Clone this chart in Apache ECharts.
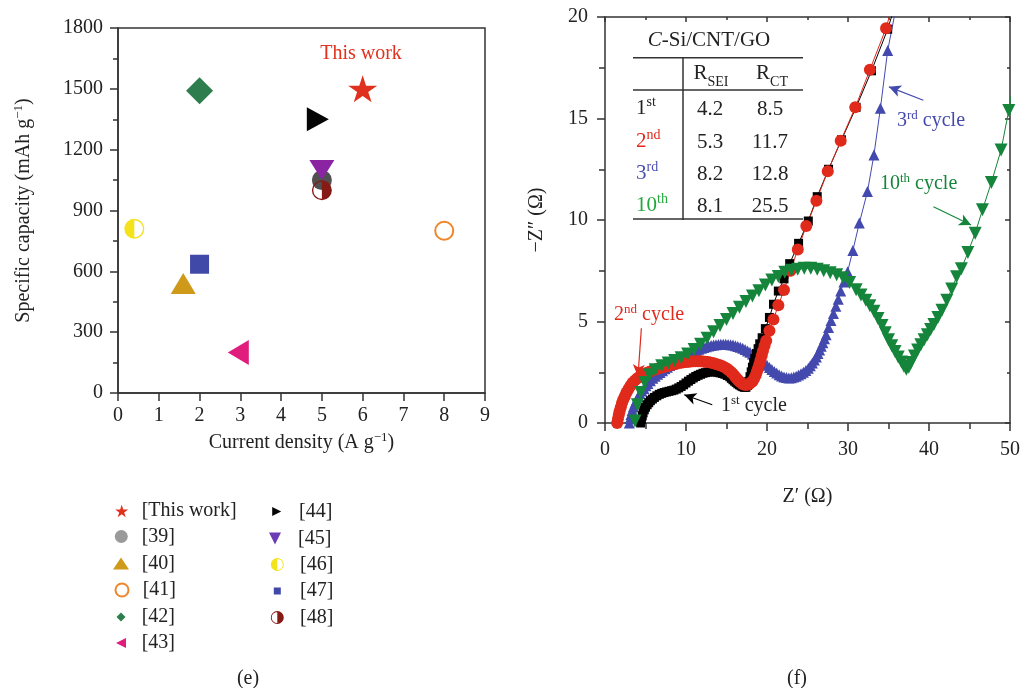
<!DOCTYPE html>
<html><head><meta charset="utf-8">
<script src="https://cdn.jsdelivr.net/npm/echarts@6/dist/echarts.min.js"></script>
<style>html,body{margin:0;padding:0;background:#fff}#c{width:1023px;height:688px}</style>
</head><body><div id="c"></div>
<script>
// ---------- DATA ----------
const refNames = ['[This work]','[39]','[40]','[41]','[42]','[43]','[44]','[45]','[46]','[47]','[48]'];
const currentDensity = [6, 5, 1.6, 8, 2, 2.95, 4.9, 5, 0.4, 2, 5];
const specificCapacity = [1500, 1050, 540, 800, 1490, 200, 1350, 1100, 810, 635, 1000];

const cycle1 = [[4.4,0.0],[4.5,0.18],[4.6,0.35],[4.7,0.5],[4.85,0.65],[5.0,0.78],[5.2,0.9],[5.4,1.0],[5.6,1.1],[5.85,1.18],[6.1,1.26],[6.4,1.34],[6.7,1.41],[7.0,1.46],[7.3,1.5],[7.6,1.53],[7.9,1.56],[8.2,1.59],[8.5,1.62],[8.8,1.67],[9.1,1.73],[9.4,1.8],[9.7,1.88],[10.0,1.97],[10.3,2.06],[10.6,2.14],[10.9,2.22],[11.2,2.29],[11.5,2.35],[11.8,2.4],[12.1,2.45],[12.4,2.48],[12.7,2.51],[13.0,2.52],[13.3,2.53],[13.6,2.52],[13.9,2.5],[14.2,2.47],[14.5,2.44],[14.8,2.4],[15.1,2.34],[15.4,2.28],[15.6,2.2],[15.8,2.13],[16.0,2.06],[16.2,2.0],[16.4,1.93],[16.6,1.88],[16.8,1.83],[17.0,1.79],[17.2,1.76],[17.4,1.76],[17.6,1.85],[17.75,2.05],[17.9,2.28],[18.05,2.52],[18.2,2.75],[18.35,2.97],[18.5,3.18],[18.7,3.42],[18.9,3.66],[19.1,3.9],[19.4,4.2],[19.8,4.65],[20.3,5.2],[20.8,5.85],[21.4,6.5],[22.1,7.1],[22.8,7.85],[23.9,8.85],[25.1,9.95],[26.2,11.15],[27.6,12.5],[29.2,13.95],[31.0,15.55],[32.9,17.35],[34.9,19.4],[35.6,20.3]];
const cycle2 = [[1.5,0.0],[1.6,0.2],[1.7,0.4],[1.8,0.58],[1.95,0.78],[2.1,0.98],[2.25,1.15],[2.45,1.32],[2.65,1.5],[2.9,1.68],[3.15,1.84],[3.4,1.98],[3.7,2.1],[4.0,2.2],[4.3,2.28],[4.6,2.35],[4.9,2.42],[5.2,2.48],[5.5,2.53],[5.8,2.58],[6.1,2.62],[6.4,2.66],[6.7,2.7],[7.0,2.73],[7.3,2.77],[7.6,2.8],[7.9,2.83],[8.2,2.86],[8.5,2.89],[8.8,2.92],[9.1,2.95],[9.4,2.97],[9.7,2.99],[10.0,3.0],[10.3,3.02],[10.6,3.03],[10.9,3.04],[11.2,3.04],[11.5,3.04],[11.8,3.04],[12.1,3.03],[12.4,3.02],[12.7,3.0],[13.0,2.98],[13.3,2.95],[13.6,2.92],[13.9,2.88],[14.2,2.84],[14.5,2.79],[14.8,2.74],[15.05,2.67],[15.3,2.6],[15.55,2.51],[15.8,2.42],[16.0,2.32],[16.2,2.22],[16.4,2.13],[16.6,2.05],[16.8,1.98],[17.0,1.92],[17.2,1.89],[17.4,1.88],[17.6,1.89],[17.8,1.92],[18.0,1.98],[18.2,2.05],[18.4,2.18],[18.6,2.35],[18.75,2.52],[18.9,2.7],[19.05,2.9],[19.2,3.1],[19.35,3.32],[19.5,3.55],[19.7,3.8],[19.9,4.05],[20.3,4.55],[20.8,5.1],[21.4,5.8],[22.1,6.55],[22.9,7.5],[23.8,8.55],[24.85,9.7],[26.1,10.95],[27.5,12.4],[29.1,13.9],[30.9,15.55],[32.7,17.4],[34.7,19.45],[35.3,20.3]];
const cycle3 = [[3.0,0.0],[3.1,0.22],[3.2,0.42],[3.35,0.62],[3.5,0.8],[3.7,0.98],[3.9,1.15],[4.1,1.3],[4.3,1.45],[4.55,1.58],[4.8,1.7],[5.05,1.83],[5.3,1.95],[5.6,2.08],[5.9,2.2],[6.2,2.3],[6.5,2.4],[6.8,2.49],[7.1,2.58],[7.4,2.67],[7.7,2.75],[8.0,2.83],[8.3,2.9],[8.6,2.98],[8.9,3.05],[9.2,3.13],[9.5,3.2],[9.8,3.27],[10.1,3.33],[10.4,3.4],[10.7,3.46],[11.0,3.52],[11.3,3.58],[11.6,3.63],[11.9,3.68],[12.2,3.72],[12.5,3.76],[12.8,3.79],[13.1,3.82],[13.4,3.84],[13.7,3.86],[14.0,3.87],[14.3,3.88],[14.6,3.88],[14.9,3.88],[15.2,3.87],[15.5,3.86],[15.8,3.84],[16.1,3.81],[16.4,3.77],[16.7,3.73],[17.0,3.68],[17.3,3.62],[17.6,3.55],[17.9,3.48],[18.2,3.4],[18.5,3.32],[18.8,3.23],[19.1,3.14],[19.4,3.04],[19.7,2.94],[20.0,2.84],[20.3,2.74],[20.6,2.64],[20.9,2.54],[21.2,2.46],[21.5,2.38],[21.8,2.32],[22.1,2.27],[22.4,2.24],[22.7,2.22],[23.0,2.23],[23.3,2.26],[23.6,2.3],[23.9,2.36],[24.2,2.42],[24.5,2.5],[24.8,2.59],[25.1,2.7],[25.35,2.82],[25.6,2.95],[25.85,3.1],[26.1,3.25],[26.3,3.42],[26.5,3.6],[26.7,3.78],[26.9,3.95],[27.1,4.15],[27.3,4.35],[27.6,4.7],[27.9,5.05],[28.2,5.4],[28.5,5.75],[28.8,6.1],[29.1,6.5],[29.5,6.95],[29.95,7.45],[30.6,8.5],[31.4,9.85],[32.4,11.4],[33.2,13.2],[34.0,15.5],[34.9,18.35],[36.0,20.6]];
const cycle10 = [[3.7,0.1],[4.0,0.9],[4.4,1.5],[4.9,2.0],[5.5,2.38],[6.2,2.62],[7.0,2.82],[7.8,2.95],[8.6,3.08],[9.4,3.22],[10.2,3.4],[11.0,3.62],[11.8,3.88],[12.6,4.18],[13.4,4.5],[14.2,4.8],[15.0,5.1],[15.8,5.4],[16.6,5.7],[17.4,5.98],[18.2,6.26],[19.0,6.52],[19.8,6.8],[20.6,7.05],[21.4,7.22],[22.2,7.42],[23.0,7.52],[23.8,7.58],[24.6,7.62],[25.4,7.62],[26.2,7.58],[27.0,7.5],[27.8,7.4],[28.6,7.3],[29.4,7.15],[30.2,6.92],[31.0,6.56],[31.6,6.3],[32.2,6.05],[32.7,5.78],[33.2,5.5],[33.7,5.15],[34.2,4.8],[34.6,4.45],[35.0,4.1],[35.4,3.8],[35.8,3.52],[36.2,3.25],[36.6,3.0],[36.9,2.8],[37.2,2.65],[37.5,2.75],[37.8,2.98],[38.2,3.3],[38.6,3.6],[39.0,3.85],[39.4,4.1],[39.8,4.35],[40.2,4.6],[40.6,4.85],[41.1,5.2],[41.6,5.55],[42.2,6.05],[42.8,6.6],[43.4,7.2],[44.0,7.6],[44.8,8.4],[45.7,9.35],[46.6,10.5],[47.7,11.85],[48.9,13.45],[49.85,15.4],[50.6,17.2]];

const tableCycles = [['1','st'],['2','nd'],['3','rd'],['10','th']];
const rSEI = ['4.2','5.3','8.2','8.1'];
const rCT = ['8.5','11.7','12.8','25.5'];

// ---------- STYLE ----------
const FONT = 'Liberation Serif';
const TXT = '#222';
const STAR = 'path://M50 0L61.23 34.55L97.55 34.55L68.17 55.9L79.39 90.45L50 69.1L20.61 90.45L31.83 55.9L2.45 34.55L38.77 34.55Z';
const TRI_R = 'path://M0 0L100 50L0 100Z';
const TRI_L = 'path://M100 0L0 50L100 100Z';
const TRI_D = 'path://M0 0L100 0L50 100Z';
const HALF_L = 'path://M50 0A50 50 0 0 0 50 100Z M50 0A50 50 0 0 1 50 100L50 93A43 43 0 0 0 50 7Z';
const HALF_R = 'path://M50 0A50 50 0 0 1 50 100Z M50 0A50 50 0 0 0 50 100L50 93A43 43 0 0 1 50 7Z';
const refStyle = [
  {symbol: STAR, size: [29,27], color: '#e0301e'},
  {symbol: 'circle', size: 20, color: '#505050', legendColor: '#9a9a9a'},
  {symbol: 'triangle', size: [25,21], color: '#cf9a1a'},
  {symbol: 'emptyCircle', size: 18, color: '#f0862a'},
  {symbol: 'diamond', size: [27,27], color: '#2e7d4e'},
  {symbol: TRI_L, size: [21,25], color: '#e01d7d'},
  {symbol: TRI_R, size: [22,24], color: '#050505'},
  {symbol: TRI_D, size: [25,20], color: '#8a24a3', legendColor: '#6c3cb5'},
  {symbol: HALF_L, size: 20, color: '#f4e21a'},
  {symbol: 'rect', size: 19, color: '#4048a8'},
  {symbol: HALF_R, size: 20, color: '#861a15'}
];
const legendPos = [
  {cx:121.7, cy:511, w:13, h:13, tx:141.7},
  {cx:121.3, cy:536.5, w:13, h:13, tx:141.7},
  {cx:121, cy:563.5, w:16, h:12, tx:141.7},
  {cx:121, cy:590, w:13, h:13, tx:141.7},
  {cx:121, cy:617, w:9, h:9, tx:141.7},
  {cx:121, cy:643, w:10, h:10, tx:141.7},
  {cx:277.7, cy:511.5, w:11, h:9, tx:300},
  {cx:277, cy:538.5, w:16, h:12, tx:300},
  {cx:277.3, cy:564.5, w:13, h:13, tx:300},
  {cx:277.3, cy:591, w:7, h:7, tx:300},
  {cx:277.3, cy:617.5, w:13, h:13, tx:300}
];

function richSup(color, size, sup) {
  return {
    n: {fontSize: size, fontFamily: FONT, color: color, verticalAlign: 'bottom'},
    s: {fontSize: sup, fontFamily: FONT, color: color, verticalAlign: 'bottom', padding: [0,0,Math.round(size*0.45),0]}
  };
}
function zrRich(color, size, sup) {
  return {
    n: {fontSize: size, fontFamily: FONT, fill: color, verticalAlign: 'bottom'},
    s: {fontSize: sup, fontFamily: FONT, fill: color, verticalAlign: 'bottom', padding: [0,0,Math.round(size*0.45),0]},
    i: {fontSize: size, fontFamily: FONT, fill: color, fontStyle: 'italic', verticalAlign: 'bottom'},
    rb: {fontSize: size, fontFamily: FONT, fill: color, verticalAlign: 'bottom', padding: [0,0,5,0]},
    b: {fontSize: Math.round(size*0.68), fontFamily: FONT, fill: color, verticalAlign: 'bottom'}
  };
}

const axisLineStyle = {color: '#333', width: 1.5};
const labelStyle = {fontSize: 20, fontFamily: FONT, color: TXT, formatter: v => String(v)};

// ---------- SERIES ----------
const series = [];
const legends = [];
refNames.forEach((name, i) => {
  const st = refStyle[i];
  series.push({
    type: 'scatter', name: name, xAxisIndex: 0, yAxisIndex: 0,
    data: [[currentDensity[i], specificCapacity[i]]],
    symbol: st.symbol, symbolSize: st.size,
    itemStyle: st.symbol === 'emptyCircle'
      ? {color: st.color, borderColor: st.color, borderWidth: 1.5, opacity: 1}
      : {color: st.color, opacity: 1},
    emphasis: {disabled: true}, z: 2 + i * 0.01
  });
  const lp = legendPos[i];
  const item = {name: name};
  if (st.legendColor) item.itemStyle = {color: st.legendColor, opacity: 1};
  legends.push({
    data: [item], left: lp.cx - lp.w / 2, top: lp.cy - Math.max(lp.h, 20) / 2,
    itemWidth: lp.w, itemHeight: lp.h, padding: 0, selectedMode: false,
    itemStyle: {opacity: 1},
    textStyle: {fontSize: 20, fontFamily: FONT, color: TXT,
      padding: [0, 0, 0, lp.tx - (lp.cx + lp.w / 2) - 5]}
  });
});

function arrowML(color, from, to) {
  return {
    silent: true, symbol: ['none', 'arrow'], symbolSize: [9, 12],
    label: {show: false}, emphasis: {disabled: true},
    itemStyle: {color: color, opacity: 1},
    lineStyle: {color: color, width: 1.2, type: 'solid', opacity: 1},
    data: [[{coord: from}, {coord: to}]]
  };
}
function eisSeries(data, symbol, size, color, rotate, ml) {
  return {
    type: 'line', xAxisIndex: 1, yAxisIndex: 1, data: data,
    symbol: symbol, symbolSize: size, symbolRotate: rotate, showAllSymbol: true,
    lineStyle: {color: color, width: 1, opacity: 1}, itemStyle: {color: color, opacity: 1},
    emphasis: {disabled: true}, markLine: ml, clip: true
  };
}
series.push(eisSeries(cycle3, 'triangle', 11, '#4349ad', 0, arrowML('#4349ad', [39.3, 15.9], [35.05, 16.56])));
series.push(eisSeries(cycle1, 'rect', 9, '#000000', 0, arrowML('#000000', [13.24, 0.9], [9.78, 1.39])));
series.push(eisSeries(cycle2, 'circle', 12, '#e02a1c', 0, arrowML('#e02a1c', [4.49, 4.67], [4.07, 2.29])));
series.push(eisSeries(cycle10, 'triangle', 13, '#14853a', 180, arrowML('#14853a', [40.55, 10.65], [45.2, 9.75])));

// ---------- GRAPHIC (annotations & table) ----------
const graphic = [];
function gText(x, y, text, color, size, align) {
  graphic.push({type: 'text', x: x, y: y, silent: true, style: {
    text: text, rich: zrRich(color, size, Math.round(size * 0.66)),
    fontSize: size, fontFamily: FONT, fill: color,
    align: align || 'center', verticalAlign: 'middle'}});
}
function gLine(x1, y1, x2, y2) {
  graphic.push({type: 'line', silent: true, shape: {x1, y1, x2, y2}, style: {stroke: '#333', lineWidth: 1.5}});
}
gText(361, 54, '{n|This work}', '#e0301e', 20);
gText(248, 679, '{n|(e)}', TXT, 20);
gText(797, 679, '{n|(f)}', TXT, 20);
// annotations
gText(614, 314, '{n|2}{s|nd}{n| cycle}', '#e02a1c', 20, 'left');
gText(721, 405, '{n|1}{s|st}{n| cycle}', TXT, 20, 'left');
gText(897, 120, '{n|3}{s|rd}{n| cycle}', '#4349ad', 20, 'left');
gText(880, 183, '{n|10}{s|th}{n| cycle}', '#14853a', 20, 'left');
// table
gText(709, 40, '{i|C}{n|-Si/CNT/GO}', TXT, 21);
gLine(633, 57.7, 803, 57.7);
gLine(633, 90, 803, 90);
gLine(633, 219, 803, 219);
gLine(683, 57.7, 683, 220);
gText(711, 76, '{rb|R}{b|SEI}', TXT, 21);
gText(772, 76, '{rb|R}{b|CT}', TXT, 21);
const rowY = [107, 140, 172, 204];
const rowColor = [TXT, '#e02a1c', '#4a4fb0', '#22a83a'];
tableCycles.forEach((c, i) => {
  gText(636, rowY[i], '{n|' + c[0] + '}{s|' + c[1] + '}', rowColor[i], 21, 'left');
  gText(710, rowY[i] + 2, '{n|' + rSEI[i] + '}', TXT, 21);
  gText(770, rowY[i] + 2, '{n|' + rCT[i] + '}', TXT, 21);
});

// ---------- OPTION ----------
const option = {
  animation: false,
  backgroundColor: '#fff',
  grid: [
    {left: 118, top: 28, width: 367, height: 365, show: true, borderColor: '#333', borderWidth: 1.5, backgroundColor: 'transparent'},
    {left: 605, top: 17, width: 409, height: 406}
  ],
  legend: legends,
  xAxis: [
    {type: 'value', gridIndex: 0, min: 0, max: 9, interval: 1,
      axisLine: {show: true, onZero: false, lineStyle: axisLineStyle},
      axisTick: {show: true, inside: false, length: 8, lineStyle: axisLineStyle},
      axisLabel: Object.assign({margin: 13}, labelStyle), splitLine: {show: false},
      name: '{n|Current density (A g}{s|−1}{n|)}', nameLocation: 'middle', nameGap: 34,
      nameTextStyle: {rich: richSup(TXT, 20, 13)}},
    {type: 'value', gridIndex: 1, min: 0, max: 50, interval: 10, position: 'bottom',
      axisLine: {show: true, onZero: false, lineStyle: axisLineStyle},
      axisTick: {show: true, inside: false, length: 8, lineStyle: axisLineStyle},
      minorTick: {show: true, splitNumber: 2, length: 6, lineStyle: axisLineStyle},
      axisLabel: Object.assign({margin: 17}, labelStyle), splitLine: {show: false}, minorSplitLine: {show: false},
      name: '{n|Z′ (Ω)}', nameLocation: 'middle', nameGap: 64,
      nameTextStyle: {rich: richSup(TXT, 20, 13)}},
    {type: 'value', gridIndex: 1, min: 0, max: 50, interval: 10, position: 'top',
      axisLine: {show: true, onZero: false, lineStyle: axisLineStyle},
      axisTick: {show: true, inside: true, length: 5, lineStyle: axisLineStyle},
      minorTick: {show: true, splitNumber: 2, length: 3, lineStyle: axisLineStyle},
      axisLabel: {show: false}, splitLine: {show: false}}
  ],
  yAxis: [
    {type: 'value', gridIndex: 0, min: 0, max: 1800, interval: 300,
      axisLine: {show: true, onZero: false, lineStyle: axisLineStyle},
      axisTick: {show: true, inside: false, length: 8, lineStyle: axisLineStyle},
      minorTick: {show: true, splitNumber: 2, length: 5, lineStyle: axisLineStyle},
      axisLabel: Object.assign({margin: 15}, labelStyle), splitLine: {show: false}, minorSplitLine: {show: false},
      name: '{n|Specific capacity (mAh g}{s|−1}{n|)}', nameLocation: 'middle', nameGap: 84,
      nameTextStyle: {rich: richSup(TXT, 20, 13)}},
    {type: 'value', gridIndex: 1, min: 0, max: 20, interval: 5, position: 'left',
      axisLine: {show: true, onZero: false, lineStyle: axisLineStyle},
      axisTick: {show: true, inside: false, length: 8, lineStyle: axisLineStyle},
      minorTick: {show: true, splitNumber: 2, length: 6, lineStyle: axisLineStyle},
      axisLabel: Object.assign({margin: 17}, labelStyle), splitLine: {show: false}, minorSplitLine: {show: false},
      name: '{n|−Z″ (Ω)}', nameLocation: 'middle', nameGap: 58,
      nameTextStyle: {rich: richSup(TXT, 20, 13)}},
    {type: 'value', gridIndex: 1, min: 0, max: 20, interval: 5, position: 'right',
      axisLine: {show: true, onZero: false, lineStyle: axisLineStyle},
      axisTick: {show: true, inside: true, length: 5, lineStyle: axisLineStyle},
      minorTick: {show: true, splitNumber: 2, length: 3, lineStyle: axisLineStyle},
      axisLabel: {show: false}, splitLine: {show: false}}
  ],
  series: series,
  graphic: graphic
};
const chart = echarts.init(document.getElementById('c'), null, {renderer: 'canvas'});
chart.setOption(option);
</script>
</body></html>
